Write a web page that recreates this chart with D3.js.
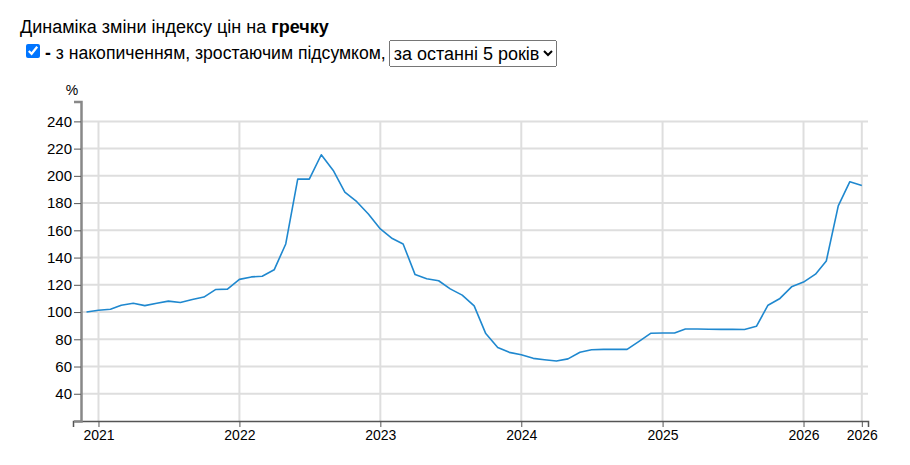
<!DOCTYPE html>
<html>
<head>
<meta charset="utf-8">
<script src="https://cdn.jsdelivr.net/npm/d3@7"></script>
<style>
  body { margin: 0; font-family: "Liberation Sans", Arial, sans-serif; background: #fff; }
  #head { position: absolute; left: 20px; top: 17px; font-size: 18px; color: #000; }
  #opts { position: absolute; left: 22px; top: 40px; font-size: 17.6px; display: flex; align-items: center; }
  #opts input { margin: 0 5px 0 4px; width: 14px; height: 14px; position: relative; top: -3px; }
  #opts select { font-size: 18px; font-family: inherit; margin-left: 3px; height: 27px; }
  #wrapper { position: absolute; left: 0; top: 0; }
</style>
</head>
<body>
<div id="head">Динаміка зміни індексу цін на <b>гречку</b></div>
<div id="opts"><input type="checkbox" checked><b>-</b>&nbsp;з накопиченням, зростаючим підсумком,<select><option>за останні 5 років</option></select></div>
<div id="wrapper"></div>
<script>
// monthly index, % (first month = 100)
const months = d3.timeMonths(new Date(2020, 11, 1), new Date(2026, 6, 1));
const values = [
  100,
  101.3, 102, 105, 106.4, 104.7, 106.5, 108, 107, 109.2, 111, 116.6, 116.8,
  124, 125.8, 126.3, 131, 150, 197.6, 197.6, 215.5, 204, 188, 181, 172,
  161, 154, 150, 127.5, 124.5, 123, 117, 112.4, 104.5, 84.2, 74, 70.4,
  68.7, 66, 65, 64, 65.6, 70.5, 72.3, 72.6, 72.6, 72.6, 78.5, 84.4,
  84.6, 84.6, 87.5, 87.5, 87.4, 87.3, 87.3, 87.2, 89.5, 105, 110, 118.5,
  122, 127.8, 137.5, 178, 195.7, 193
];
const yTicks = [40, 60, 80, 100, 120, 140, 160, 180, 200, 220, 240];
const xTicks = [2021, 2022, 2023, 2024, 2025, 2026].map(y => new Date(y, 0, 1))
  .concat([months[months.length - 1]]);

const dataset = months.map((d, i) => ({date: d, value: values[i]}));
const xAccessor = d => d.date;
const yAccessor = d => d.value;

const dimensions = { width: 910, height: 465 };

const svg = d3.select('#wrapper').append('svg')
  .attr('width', dimensions.width)
  .attr('height', dimensions.height)
  .style('font-family', '"Liberation Sans", Arial, sans-serif');

const xScale = d3.scaleTime()
  .domain([new Date(2020, 9, 27), new Date(2026, 5, 17)])
  .range([73, 868]);
const yScale = d3.scaleLinear()
  .domain([20, 254.6])
  .range([421, 101.5]);
const yAxisX = 81;

// grid
svg.append('g').selectAll('line.h').data(yTicks).join('line')
  .attr('x1', yAxisX).attr('x2', 868)
  .attr('y1', d => yScale(d)).attr('y2', d => yScale(d))
  .attr('stroke', '#dedede').attr('stroke-width', 2);
svg.append('g').selectAll('line.v').data(xTicks).join('line')
  .attr('x1', d => xScale(d)).attr('x2', d => xScale(d))
  .attr('y1', yScale(240)).attr('y2', yScale(20))
  .attr('stroke', '#dedede').attr('stroke-width', 2);

// line
const lineDrawer = d3.line()
  .x(d => xScale(xAccessor(d)))
  .y(d => yScale(yAccessor(d)));
svg.append('path')
  .attr('d', lineDrawer(dataset))
  .attr('fill', 'none')
  .attr('stroke', '#1f88cf')
  .attr('stroke-width', 1.6)
  .attr('stroke-linejoin', 'round');

// axes
const xAxis = svg.append('g')
  .attr('transform', `translate(0,${yScale(20)})`)
  .call(d3.axisBottom(xScale).tickValues(xTicks)
    .tickFormat(d3.timeFormat('%Y')).tickSizeOuter(0).tickSize(6));
xAxis.select('.domain').attr('stroke', '#555').attr('stroke-width', 1.5);
xAxis.selectAll('.tick line').attr('stroke', '#555');
xAxis.selectAll('text').attr('font-size', 14).attr('fill', '#000');

const yAxis = svg.append('g')
  .attr('transform', `translate(${yAxisX},0)`)
  .call(d3.axisLeft(yScale).tickValues(yTicks).tickSizeOuter(0).tickSize(7).tickPadding(2));
yAxis.select('.domain').attr('stroke', '#888').attr('stroke-width', 2.5);
yAxis.selectAll('.tick line').attr('stroke', '#555');
yAxis.selectAll('text').attr('font-size', 15).attr('fill', '#000');

svg.append('text')
  .attr('x', 72).attr('y', 95)
  .attr('text-anchor', 'middle')
  .attr('font-size', 14)
  .text('%');
</script>
</body>
</html>
